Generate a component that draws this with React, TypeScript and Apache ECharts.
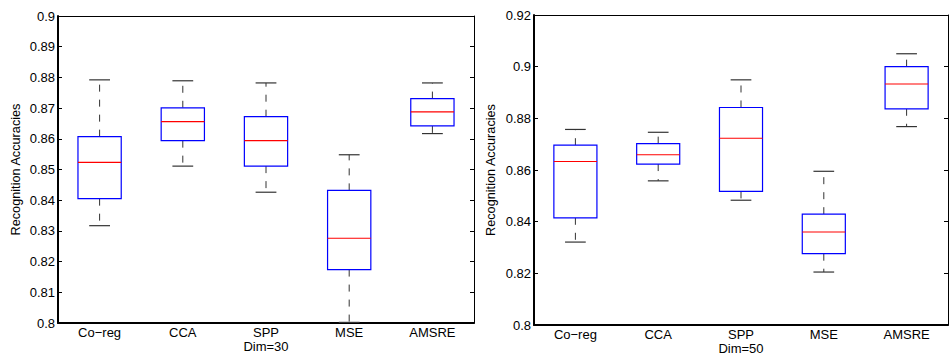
import React, { useEffect, useRef } from "react";
import * as echarts from "echarts";

const categories = ["Co−reg", "CCA", "SPP", "MSE", "AMSRE"];

// [lowerWhisker, Q1, median, Q3, upperWhisker]
const dim30Values = [
  [0.8317, 0.8405, 0.8523, 0.8607, 0.8792],
  [0.8511, 0.8594, 0.8656, 0.8701, 0.8789],
  [0.8426, 0.8511, 0.8594, 0.8672, 0.8782],
  [0.8002, 0.8174, 0.8276, 0.8432, 0.8548],
  [0.8617, 0.8642, 0.8688, 0.8731, 0.8782],
];

const dim50Values = [
  [0.8321, 0.8415, 0.8633, 0.8696, 0.8757],
  [0.8558, 0.8623, 0.8659, 0.8702, 0.8746],
  [0.8483, 0.8517, 0.8723, 0.8842, 0.8949],
  [0.8205, 0.8276, 0.836, 0.8429, 0.8595],
  [0.8768, 0.8837, 0.8933, 0.9, 0.905],
];

const leftTicks = { min: 0.8, max: 0.9, interval: 0.01 };
const rightTicks = { min: 0.8, max: 0.92, interval: 0.02 };

const yName = "Recognition Accuracies";
const leftXName = "Dim=30";
const rightXName = "Dim=50";

const FONT = "'Liberation Sans', Arial, Helvetica, sans-serif";

const fmt = (v: number) => String(parseFloat(v.toFixed(3)));

function renderBox(params: any, api: any) {
  const x = api.value(0);
  const lo = api.coord([x, api.value(1)]);
  const q1 = api.coord([x, api.value(2)]);
  const med = api.coord([x, api.value(3)]);
  const q3 = api.coord([x, api.value(4)]);
  const hi = api.coord([x, api.value(5)]);
  const band = api.size([1, 0])[0];
  const bw = band * 0.52;
  const cw = band * 0.25;
  const cx = lo[0];
  const whisk = { stroke: "#333", lineWidth: 1, lineDash: [7, 8] };
  const cap = { stroke: "#333", lineWidth: 1.2 };
  return {
    type: "group",
    children: [
      { type: "line", shape: { x1: cx, y1: q3[1], x2: cx, y2: hi[1] }, style: whisk },
      { type: "line", shape: { x1: cx, y1: q1[1], x2: cx, y2: lo[1] }, style: whisk },
      { type: "line", shape: { x1: cx - cw / 2, y1: hi[1], x2: cx + cw / 2, y2: hi[1] }, style: cap },
      { type: "line", shape: { x1: cx - cw / 2, y1: lo[1], x2: cx + cw / 2, y2: lo[1] }, style: cap },
      {
        type: "rect",
        shape: { x: cx - bw / 2, y: q3[1], width: bw, height: q1[1] - q3[1] },
        style: { fill: "#fff", stroke: "#0000ff", lineWidth: 1.2 },
      },
      { type: "line", shape: { x1: cx - bw / 2, y1: med[1], x2: cx + bw / 2, y2: med[1] }, style: { stroke: "#ff0000", lineWidth: 1.2 } },
    ],
  };
}

function buildAxes(idx: number, ticks: any, xName: string, nameGapY: number) {
  const xa = [
    {
      type: "category",
      gridIndex: idx,
      data: categories,
      position: "bottom",
      name: xName,
      nameLocation: "middle",
      nameGap: 17,
      nameMoveOverlap: false,
      nameTextStyle: { color: "#000", fontSize: 13, fontFamily: FONT },
      boundaryGap: true,
      axisLine: { lineStyle: { color: "#000", width: 2 } },
      axisTick: { inside: true, length: 4, alignWithLabel: true, lineStyle: { color: "#000" } },
      axisLabel: { color: "#000", fontSize: 13, fontFamily: FONT, margin: 3 },
      splitLine: { show: false },
    },
    {
      type: "category",
      gridIndex: idx,
      data: categories,
      position: "top",
      boundaryGap: true,
      axisLine: { lineStyle: { color: "#000", width: 1 } },
      axisTick: { inside: true, length: 4, alignWithLabel: true, lineStyle: { color: "#000" } },
      axisLabel: { show: false },
      splitLine: { show: false },
    },
  ];
  const ya = [
    {
      type: "value",
      gridIndex: idx,
      position: "left",
      min: ticks.min,
      max: ticks.max,
      interval: ticks.interval,
      name: yName,
      nameLocation: "middle",
      nameGap: nameGapY,
      nameMoveOverlap: false,
      nameTextStyle: { color: "#000", fontSize: 12.7, fontFamily: FONT },
      axisLine: { show: true, lineStyle: { color: "#000", width: 2 } },
      axisTick: { show: true, inside: true, length: 4, lineStyle: { color: "#000" } },
      axisLabel: { color: "#000", fontSize: 13, fontFamily: FONT, margin: 3, formatter: fmt },
      splitLine: { show: false },
    },
    {
      type: "value",
      gridIndex: idx,
      position: "right",
      min: ticks.min,
      max: ticks.max,
      interval: ticks.interval,
      axisLine: { show: true, lineStyle: { color: "#000", width: 1 } },
      axisTick: { show: true, inside: true, length: 4, lineStyle: { color: "#000" } },
      axisLabel: { show: false },
      splitLine: { show: false },
    },
  ];
  return { xa, ya };
}

export default function App() {
  const ref = useRef<HTMLDivElement>(null);
  useEffect(() => {
    document.body.style.margin = "0";
    if (!ref.current) return;
    const chart = echarts.init(ref.current, null, { renderer: "svg" });
    const a = buildAxes(0, leftTicks, leftXName, 36);
    const b = buildAxes(1, rightTicks, rightXName, 37);
    const toData = (vals: number[][]) => vals.map((v, i) => [i, ...v]);
    chart.setOption({
      animation: false,
      backgroundColor: "#fff",
      grid: [
        { left: 58, top: 16, width: 416, height: 307, containLabel: false, outerBoundsMode: "none" },
        { left: 534, top: 15, width: 414, height: 310, containLabel: false, outerBoundsMode: "none" },
      ],
      xAxis: [...a.xa, ...b.xa.map((x: any) => ({ ...x, gridIndex: 1 }))],
      yAxis: [...a.ya, ...b.ya.map((y: any) => ({ ...y, gridIndex: 1 }))],
      series: [
        {
          type: "custom",
          xAxisIndex: 0,
          yAxisIndex: 0,
          renderItem: renderBox,
          encode: { x: 0, y: [1, 2, 3, 4, 5] },
          data: toData(dim30Values),
          clip: false,
        },
        {
          type: "custom",
          xAxisIndex: 2,
          yAxisIndex: 2,
          renderItem: renderBox,
          encode: { x: 0, y: [1, 2, 3, 4, 5] },
          data: toData(dim50Values),
          clip: false,
        },
      ],
    });
    return () => chart.dispose();
  }, []);
  return <div ref={ref} style={{ width: 949, height: 355 }} />;
}
